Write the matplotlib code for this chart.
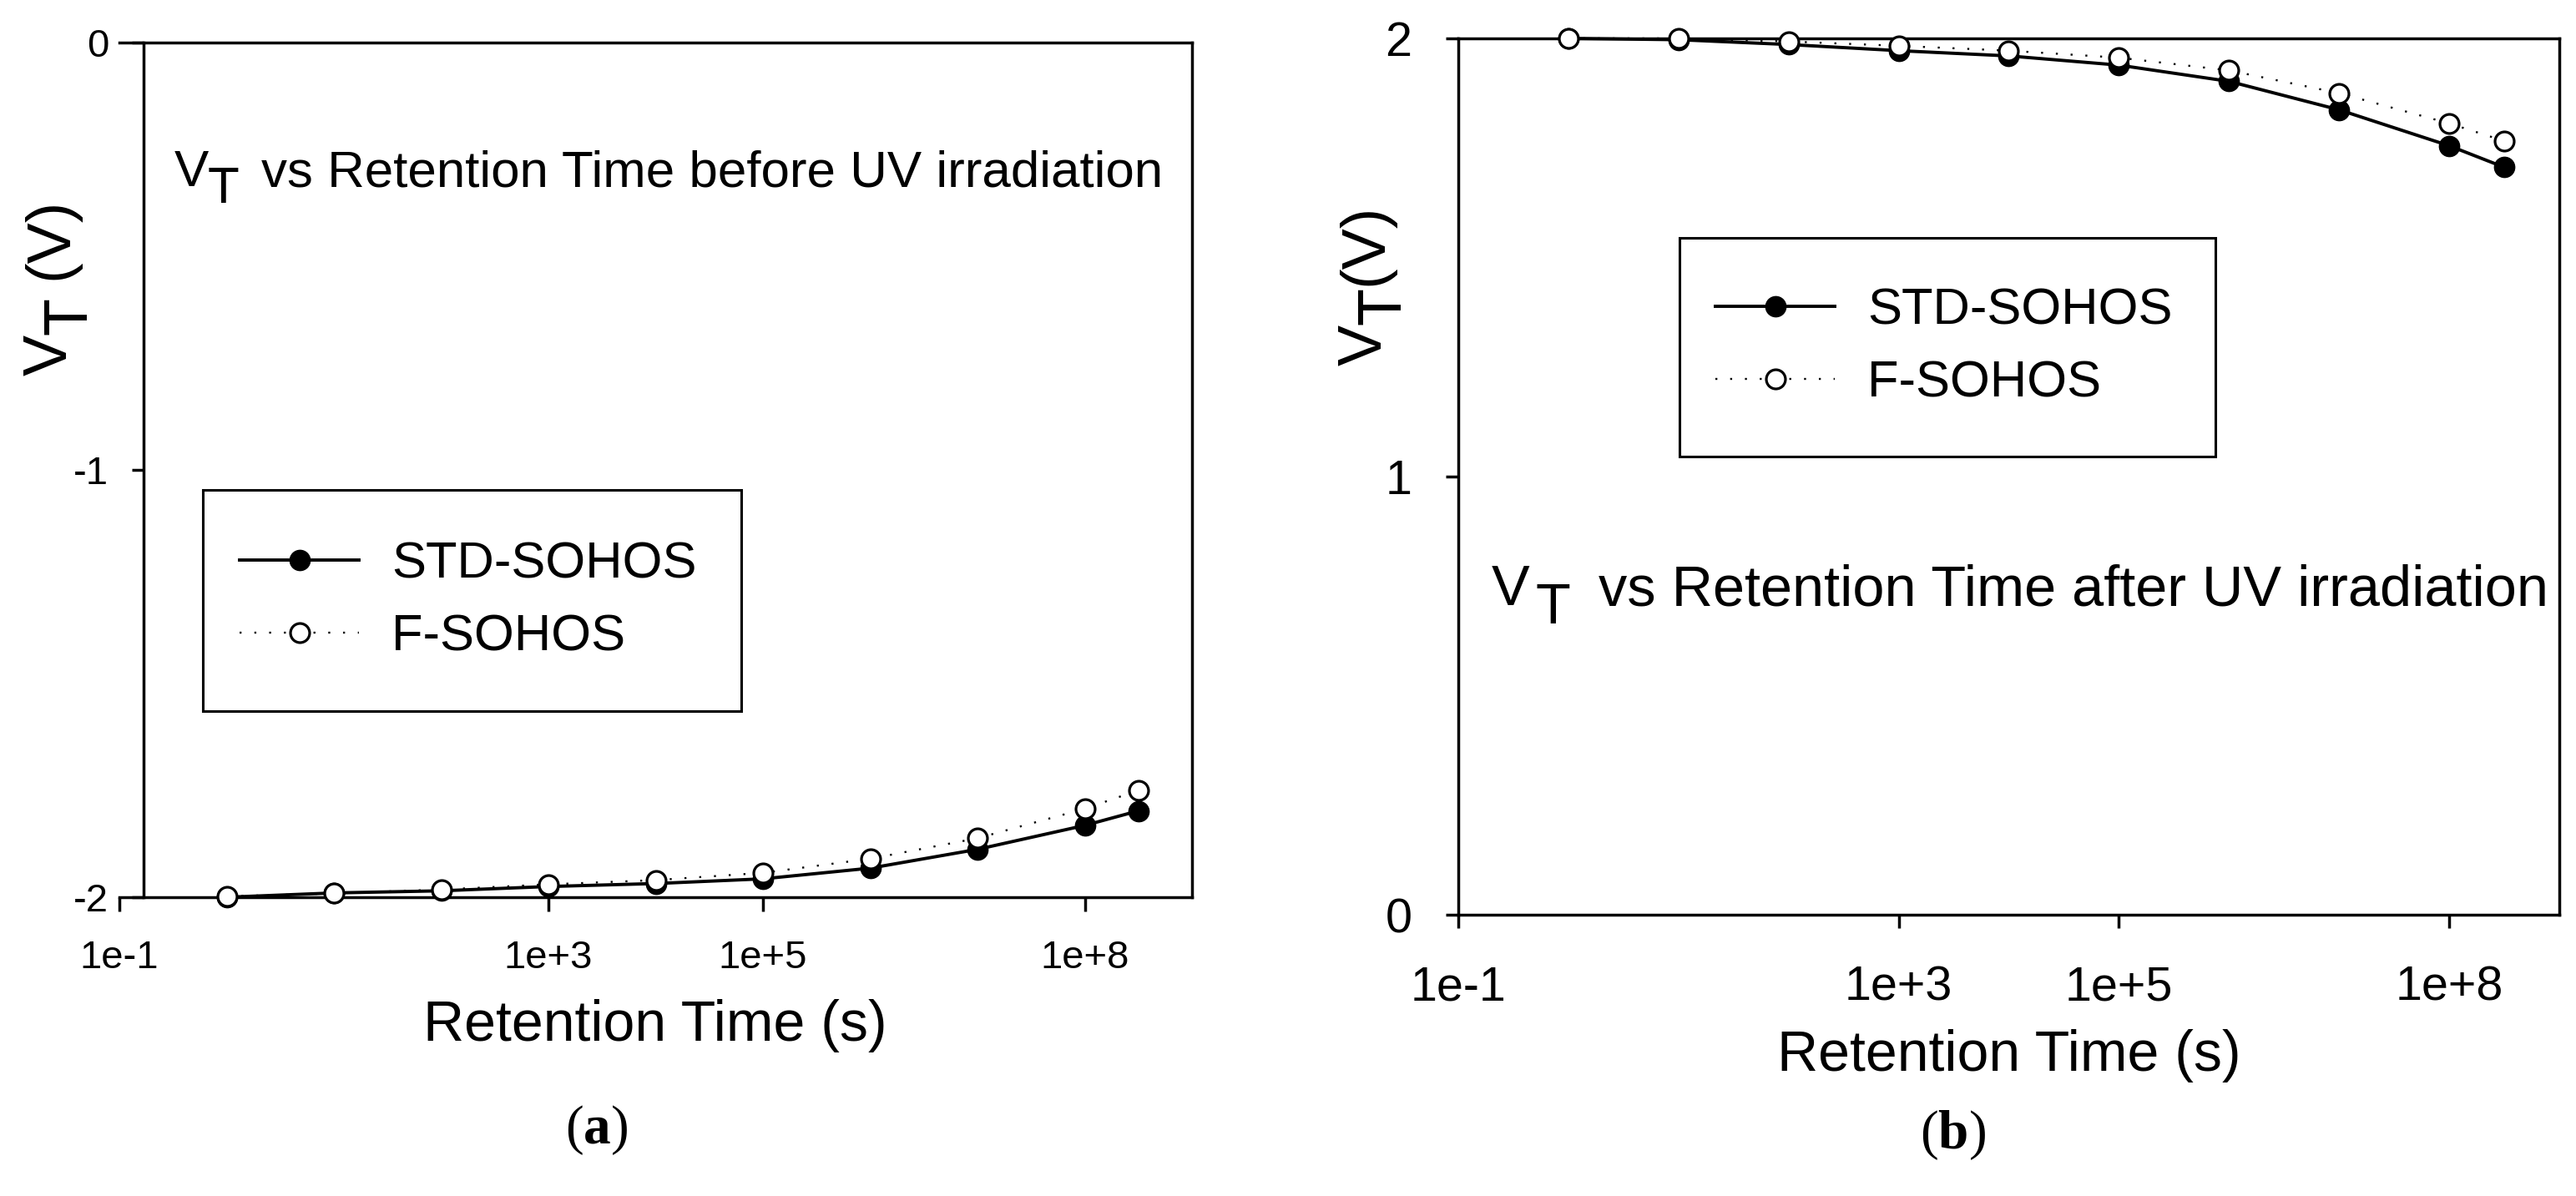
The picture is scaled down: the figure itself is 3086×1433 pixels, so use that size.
import matplotlib
matplotlib.use("Agg")
import matplotlib.pyplot as plt
from matplotlib.patches import Rectangle

# retention time (s) and threshold voltage (V)
time_s = [1, 10, 100, 1e3, 1e4, 1e5, 1e6, 1e7, 1e8, 3.15e8]
vt_before_std = [-2.000, -1.990, -1.985, -1.975, -1.968, -1.957, -1.932, -1.888, -1.832, -1.798]
vt_before_f = [-1.998, -1.991, -1.982, -1.970, -1.960, -1.943, -1.910, -1.862, -1.793, -1.750]
vt_after_std = [2.000, 1.997, 1.986, 1.972, 1.960, 1.939, 1.902, 1.837, 1.755, 1.706]
vt_after_f = [2.000, 2.000, 1.993, 1.983, 1.972, 1.956, 1.927, 1.875, 1.806, 1.766]

series_names = ["STD-SOHOS", "F-SOHOS"]
xtick_vals = [1e-1, 1e3, 1e5, 1e8]
xtick_text = ["1e-1", "1e+3", "1e+5", "1e+8"]
ytick_before = [-2, -1, 0]
ytick_after = [0, 1, 2]

SANS = ["Liberation Sans", "DejaVu Sans"]
plt.rcParams["font.family"] = SANS
plt.rcParams["axes.unicode_minus"] = False
plt.rcParams["mathtext.fontset"] = "custom"
plt.rcParams["mathtext.rm"] = "Liberation Serif"
plt.rcParams["mathtext.bf"] = "Liberation Serif:bold"

W, H = 3086, 1433
fig = plt.figure(figsize=(W / 100, H / 100), dpi=100)

def fx(px):
    return px / W

def fy(py):
    return 1 - py / H

def txt(x, y, s, size, **kw):
    return fig.text(fx(x), fy(y), s, fontsize=size, ha=kw.pop("ha", "left"),
                    va=kw.pop("va", "baseline"), **kw)

def style_axes(ax, ylim, yticks, tsize, ylen, ypad, xlen, xpad):
    ax.set_xscale("log")
    ax.set_xlim(1e-1, 1e9)
    ax.set_ylim(*ylim)
    ax.set_xticks(xtick_vals)
    ax.set_xticklabels(xtick_text)
    ax.xaxis.set_minor_locator(matplotlib.ticker.NullLocator())
    ax.set_yticks(yticks)
    ax.set_yticklabels([str(v) for v in yticks])
    for sp in ax.spines.values():
        sp.set_linewidth(2.5)
    ax.tick_params(axis="y", direction="out", length=ylen, width=2.5, pad=ypad,
                   labelsize=tsize, right=False)
    ax.tick_params(axis="x", direction="out", length=xlen, width=2.5, pad=xpad,
                   labelsize=tsize, top=False)

def draw_series(ax, y_std, y_f):
    ax.plot(time_s, y_std, color="black", lw=2.8, marker="o", ms=17.5,
            mfc="black", mec="black", mew=1, clip_on=False, zorder=3,
            label=series_names[0])
    ax.plot(time_s, y_f, color="black", lw=1.7, ls=(0, (1, 6.5)),
            marker="o", ms=16.5, mfc="white", mec="black", mew=2.3,
            clip_on=False, zorder=4, label=series_names[1])

def add_legend(ax, hx, yc, box, size):
    ax.legend(loc="center left", bbox_to_anchor=(fx(hx), fy(yc)),
              bbox_transform=fig.transFigure, borderaxespad=0, borderpad=0,
              fontsize=size, labelspacing=0.5, handlelength=2.33,
              handletextpad=0.63, numpoints=1, frameon=False)
    x0, y0, x1, y1 = box
    fig.add_artist(Rectangle((fx(x0), fy(y1)), (x1 - x0) / W, (y1 - y0) / H,
                             transform=fig.transFigure, fill=False,
                             edgecolor="black", linewidth=2.2))

# (a) before UV irradiation
ax1 = fig.add_axes([fx(143), fy(1075), (1428 - 143) / W, (1075 - 51) / H])
style_axes(ax1, (-2, 0), ytick_before, 34, 10, 20, 12, 25)
ax1.spines["left"].set_position(("axes", (172 - 143) / (1428 - 143)))
draw_series(ax1, vt_before_std, vt_before_f)
add_legend(ax1, 287, 720.5, (243, 587, 888, 852), 44.3)
ax1.set_xlabel("Retention Time (s)", fontsize=49, va="center")
ax1.xaxis.set_label_coords(fx(785), fy(1229), transform=fig.transFigure)

txt(209, 223, "V", 44.6)
txt(249, 243, "T", 44.6)
txt(313, 223, "vs Retention Time before UV irradiation", 44.6)

txt(80, 450, "V", 53, rotation=90, rotation_mode="anchor")
txt(103, 401, "T", 53, rotation=90, rotation_mode="anchor")
txt(80, 335, "(V)", 53, rotation=90, rotation_mode="anchor")

# (b) after UV irradiation
ax2 = fig.add_axes([fx(1747), fy(1096), (3066 - 1747) / W, (1096 - 46) / H])
style_axes(ax2, (0, 2), ytick_after, 41.4, 11, 29, 11.5, 32)
draw_series(ax2, vt_after_std, vt_after_f)
add_legend(ax2, 2055, 416.5, (2012, 285, 2654, 547), 44.3)
ax2.set_xlabel("Retention Time (s)", fontsize=49, va="center")
ax2.xaxis.set_label_coords(fx(2407), fy(1265), transform=fig.transFigure)

txt(1787, 725, "V", 49.3)
txt(1839, 747, "T", 49.3)
txt(1915, 725, "vs Retention Time after UV irradiation", 49.3)

txt(1655, 438, "V", 53, rotation=90, rotation_mode="anchor")
txt(1677, 389, "T", 53, rotation=90, rotation_mode="anchor")
txt(1655, 342, "(V)", 53, rotation=90, rotation_mode="anchor")

# panel letters
txt(715, 1354, r"($\mathbf{a}$)", 47, family="Liberation Serif", ha="center", va="center")
txt(2339, 1360, r"($\mathbf{b}$)", 47, family="Liberation Serif", ha="center", va="center")

fig.savefig("out.png", dpi=100)
